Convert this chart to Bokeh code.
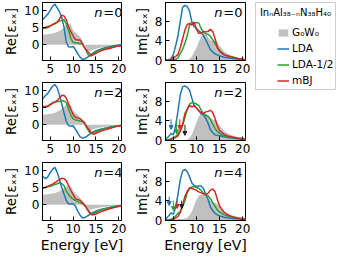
from bokeh.plotting import figure
from bokeh.layouts import row, column
from bokeh.models import Range1d, Label, Legend, LegendItem, Arrow, NormalHead, FixedTicker
from bokeh.embed import file_html
from bokeh.resources import INLINE

# ---------------- data ----------------
E = [3.3, 4, 4.5, 5, 5.5, 6, 6.5, 7, 7.5, 8, 8.5, 9, 9.5, 10, 10.5,
     11, 11.5, 12, 12.5, 13, 13.5, 14, 14.5, 15, 16, 17, 18, 19, 20, 20.6]

re0_g0w0 = [3.0, 3.0, 3.1, 3.2, 3.3, 3.5, 3.7, 4.0, 4.4, 5.0, 5.8, 6.2, 5.8, 4.2, 3.5,
            3.0, 2.4, 1.2, 0.0, -1.4, -1.9, -1.7, -1.4, -1.2, -0.9, -0.7, -0.5, -0.4, -0.3, -0.3]
re0_lda = [7.3, 8.2, 9.0, 10.0, 11.2, 11.8, 10.8, 9.6, 8.0, 5.2, 0.8, -0.6, -0.7, -0.5, -1.4,
           -2.6, -3.6, -4.2, -4.2, -3.8, -3.3, -2.8, -2.3, -1.9, -1.3, -0.9, -0.6, -0.3, -0.1, 0.0]
re0_lda12 = [4.7, 4.9, 5.0, 5.4, 5.9, 6.3, 6.6, 6.9, 7.1, 7.3, 6.0, 4.2, 1.8, 0.7, 0.5,
             0.5, 0.3, 0.3, -0.8, -2.2, -3.4, -3.1, -2.6, -2.1, -1.6, -1.2, -0.9, -0.6, -0.3, -0.2]
re0_mbj = [4.9, 5.1, 5.3, 5.5, 5.8, 6.1, 6.5, 7.5, 8.6, 8.4, 7.3, 5.2, 3.8, 2.6, 1.5,
           1.4, 1.4, 0.4, -0.9, -1.6, -2.4, -3.2, -2.9, -2.5, -1.8, -1.4, -1.1, -0.7, -0.4, -0.3]

re2_g0w0 = [3.0, 3.0, 3.1, 3.2, 3.3, 3.5, 3.8, 4.1, 4.6, 5.2, 5.8, 6.1, 5.6, 4.0, 3.4,
            2.9, 2.2, 1.1, 0.0, -1.3, -1.8, -1.6, -1.3, -1.1, -0.8, -0.6, -0.5, -0.4, -0.3, -0.3]
re2_lda = [7.5, 8.6, 9.2, 10.2, 11.2, 11.7, 10.8, 8.7, 6.1, 3.6, 1.0, -0.3, -0.4, -0.3, -1.3,
           -2.4, -3.5, -3.9, -3.8, -3.4, -2.9, -2.4, -2.0, -1.7, -1.3, -1.0, -0.7, -0.5, -0.3, -0.2]
re2_lda12 = [5.3, 5.3, 5.5, 6.0, 6.4, 6.6, 6.7, 6.8, 6.9, 7.0, 6.4, 4.6, 2.8, 1.7, 1.4,
             1.3, 1.1, 1.0, 0.4, -0.9, -2.0, -2.6, -2.3, -2.0, -1.5, -1.1, -0.8, -0.5, -0.3, -0.2]
re2_mbj = [5.0, 5.2, 5.3, 5.8, 6.2, 6.6, 7.0, 7.7, 8.5, 8.6, 7.8, 6.0, 4.5, 3.0, 2.2,
           2.0, 1.8, 1.2, 0.6, -0.6, -1.4, -2.3, -2.8, -2.5, -1.9, -1.5, -1.1, -0.7, -0.4, -0.3]

re4_g0w0 = [3.0, 3.0, 3.1, 3.2, 3.3, 3.4, 3.6, 3.9, 4.3, 4.8, 5.3, 5.6, 5.3, 4.0, 3.3,
            2.7, 2.0, 1.1, 0.2, -0.9, -1.5, -1.4, -1.2, -1.0, -0.8, -0.6, -0.5, -0.4, -0.3, -0.3]
re4_lda = [8.3, 7.6, 8.2, 9.4, 10.3, 10.9, 9.5, 7.4, 5.1, 3.1, 1.3, 0.2, 0.3, 0.3, -0.4,
           -1.8, -3.0, -3.8, -3.8, -3.4, -3.0, -2.5, -2.2, -1.9, -1.4, -1.1, -0.8, -0.5, -0.3, -0.2]
re4_lda12 = [4.8, 5.0, 5.2, 5.4, 5.6, 5.9, 6.1, 6.4, 6.2, 5.6, 4.0, 3.0, 2.2, 1.6, 1.2,
             0.9, 0.6, 0.3, -0.2, -1.1, -1.9, -2.7, -2.6, -2.2, -1.6, -1.2, -0.9, -0.6, -0.4, -0.3]
re4_mbj = [4.8, 5.1, 5.4, 5.7, 6.0, 6.4, 6.9, 7.3, 7.7, 7.6, 7.0, 5.6, 4.2, 3.0, 1.7,
           1.5, 1.3, 0.7, 0.0, -1.1, -2.2, -2.9, -2.9, -2.7, -2.1, -1.6, -1.2, -0.8, -0.5, -0.4]

im0_g0w0 = [0, 0, 0, 0, 0, 0, 0, 0, 0, 0.05, 0.2, 0.8, 1.7, 2.6, 3.8,
            4.8, 5.4, 5.7, 4.6, 4.1, 4.0, 4.0, 3.8, 2.9, 1.8, 1.2, 0.8, 0.4, 0.2, 0.15]
im0_lda = [0.0, 0.1, 0.3, 1.2, 3.0, 5.0, 8.0, 10.8, 11.2, 11.0, 10.0, 7.8, 6.8, 6.5, 6.0,
           5.6, 5.1, 4.2, 3.2, 2.2, 1.7, 1.3, 1.1, 0.9, 0.6, 0.45, 0.35, 0.2, 0.1, 0.1]
im0_lda12 = [0, 0, 0.05, 0.1, 0.2, 0.5, 1.4, 2.2, 3.5, 5.0, 7.2, 7.8, 7.5, 7.7, 7.6,
             6.5, 5.7, 5.5, 5.3, 4.9, 4.2, 3.4, 2.7, 2.0, 1.1, 0.8, 0.6, 0.35, 0.2, 0.15]
im0_mbj = [0, 0.05, 0.2, 0.5, 0.8, 1.2, 2.6, 4.4, 6.2, 7.3, 7.5, 7.2, 7.8, 6.3, 5.5,
           5.5, 5.9, 5.8, 5.9, 6.3, 5.9, 4.5, 2.6, 1.8, 1.1, 0.8, 0.55, 0.35, 0.2, 0.15]

im2_g0w0 = [0, 0, 0, 0, 0, 0, 0, 0, 0, 0.1, 0.5, 1.2, 2.4, 3.7, 4.8,
            5.5, 5.8, 5.4, 4.8, 4.5, 4.3, 4.1, 3.6, 3.0, 1.9, 1.3, 0.9, 0.6, 0.5, 0.4]
im2_lda = [0.2, 0.8, 1.4, 1.1, 3.0, 6.0, 9.3, 10.9, 11.1, 10.8, 10.2, 8.6, 7.1, 6.6, 6.1,
           5.4, 5.2, 4.5, 3.5, 2.2, 1.6, 1.1, 1.0, 0.9, 0.7, 0.5, 0.4, 0.3, 0.2, 0.2]
im2_lda12 = [0, 0.1, 0.3, 0.5, 0.8, 1.3, 2.0, 3.0, 4.6, 6.3, 7.4, 7.7, 7.6, 7.4, 7.1,
             6.2, 5.4, 5.1, 4.9, 4.3, 3.3, 2.4, 1.8, 1.4, 0.9, 0.7, 0.5, 0.4, 0.3, 0.25]
im2_mbj = [0, 0.05, 0.2, 0.4, 0.6, 0.9, 1.8, 3.3, 5.5, 6.3, 7.1, 6.8, 7.1, 6.6, 6.0,
           5.7, 5.5, 5.8, 5.9, 6.1, 5.7, 4.5, 3.0, 2.0, 1.2, 0.8, 0.6, 0.4, 0.3, 0.25]

im4_g0w0 = [0, 0, 0, 0.1, 0.2, 0.3, 0.3, 0.3, 0.4, 0.5, 1.0, 1.8, 3.0, 4.2, 5.0,
            5.2, 5.3, 5.0, 4.5, 4.0, 3.8, 3.6, 3.3, 2.8, 1.8, 1.3, 0.9, 0.7, 0.5, 0.5]
im4_lda = [0.2, 0.9, 1.5, 1.2, 2.7, 5.3, 8.3, 10.1, 10.4, 9.9, 8.9, 7.6, 7.1, 6.9, 7.0,
           7.0, 6.5, 5.3, 4.3, 2.7, 2.0, 1.4, 1.1, 0.9, 0.6, 0.45, 0.35, 0.25, 0.2, 0.2]
im4_lda12 = [0, 0.1, 0.2, 0.5, 0.9, 1.4, 1.8, 2.8, 4.0, 5.6, 6.5, 6.8, 6.9, 6.7, 6.5,
             6.1, 5.5, 5.2, 5.0, 4.4, 3.6, 2.9, 2.1, 1.7, 1.1, 0.8, 0.6, 0.4, 0.25, 0.2]
im4_mbj = [0, 0.05, 0.1, 0.2, 0.5, 0.8, 1.6, 3.0, 4.9, 5.9, 6.6, 6.5, 6.3, 6.1, 5.8,
           5.6, 5.4, 5.3, 5.5, 6.1, 6.4, 5.9, 4.3, 2.9, 1.6, 1.0, 0.6, 0.4, 0.25, 0.2]

# gap arrows (energy, arrow top, arrow tip)
gap2_x = [4.5, 5.7, 6.4, 7.5]
gap2_top = [4.3, 4.3, 4.3, 3.2]
gap2_bot = [2.2, 1.3, 2.2, 1.0]
gap4_x = [4.1, 5.0, 5.8, 6.8]
gap4_top = [4.8, 4.0, 4.0, 4.0]
gap4_bot = [3.0, 2.0, 2.4, 2.4]

n_values = [0, 2, 4]
x_ticks = [5, 10, 15, 20]
re_ticks = [0, 5, 10]
im_ticks = [0, 4, 8]
series_names = ["G₀W₀", "LDA", "LDA-1/2", "mBJ"]
legend_title = "InₙAl₃₈₋ₙN₃₈H₄₀"

# ---------------- style ----------------
FONT = "DejaVu Sans"
BLUE, GREEN, RED, GRAY = "#1f77b4", "#2ca02c", "#d62728", "#c0c0c0"
gap_colors = [BLUE, GREEN, RED, "#222222"]
LW = 1.5


def panel(kind, n, g, lda, lda12, mbj, last, gaps=None):
    is_re = kind == "re"
    W = 83 if is_re else 80
    bl = 38 if is_re else 37
    br = 7
    bt = 2
    bb = 36 if last else 20
    H = 58
    yr = Range1d(-4.6, 12.3) if is_re else Range1d(-0.05, 11.8)
    p = figure(width=bl + W + br, height=bt + H + bb,
               min_border_left=bl, min_border_right=br,
               min_border_top=bt, min_border_bottom=bb,
               x_range=Range1d(3.3, 20.6), y_range=yr,
               output_backend="svg", toolbar_location=None)
    p.grid.visible = False
    p.outline_line_color = "black"
    p.outline_line_alpha = 1
    p.outline_line_width = 1
    p.background_fill_color = "white"
    p.border_fill_color = "white"

    p.varea(x=E, y1=0, y2=g, fill_color=GRAY, fill_alpha=1)
    p.line(E, lda, line_color=BLUE, line_width=LW)
    p.line(E, lda12, line_color=GREEN, line_width=LW)
    p.line(E, mbj, line_color=RED, line_width=LW)

    if gaps is not None:
        gx, gt, gb = gaps
        for i in range(len(gx)):
            c = gap_colors[i]
            p.add_layout(Arrow(end=NormalHead(size=4, line_color=c, fill_color=c, line_width=1),
                               x_start=gx[i], y_start=gt[i], x_end=gx[i], y_end=gb[i],
                               line_color=c, line_width=1))

    p.xaxis.ticker = FixedTicker(ticks=x_ticks)
    p.yaxis.ticker = FixedTicker(ticks=re_ticks if is_re else im_ticks)
    for ax in (p.xaxis[0], p.yaxis[0]):
        ax.minor_tick_line_color = None
        ax.major_tick_in = 4
        ax.major_tick_out = 0
        ax.major_tick_line_color = "black"
        ax.axis_line_color = "black"
        ax.major_label_text_font = FONT
        ax.major_label_text_font_size = "12px"
        ax.major_label_text_color = "black"
        ax.major_label_standoff = 3
        ax.axis_label_text_font = FONT
        ax.axis_label_text_font_size = "13.5px"
        ax.axis_label_text_font_style = "normal"
        ax.axis_label_text_color = "black"
        ax.axis_label_standoff = 2
    p.yaxis.axis_label = "Re[εₓₓ]" if is_re else "Im[εₓₓ]"
    p.yaxis.major_label_orientation = "horizontal"
    if last:
        p.xaxis.axis_label = "Energy [eV]"
        p.xaxis.axis_label_text_font_size = "14px"
        p.xaxis.axis_label_standoff = 1

    # n = ... tag in the upper right corner
    p.add_layout(Label(x=W - 3, y=H - 2, x_units="screen", y_units="screen",
                       text="=" + str(n), text_font=FONT, text_font_size="13px",
                       text_align="right", text_baseline="top", text_color="black"))
    p.add_layout(Label(x=W - 23, y=H - 2, x_units="screen", y_units="screen",
                       text="n", text_font=FONT, text_font_size="13px", text_font_style="italic",
                       text_align="right", text_baseline="top", text_color="black"))
    return p


p1 = panel("re", n_values[0], re0_g0w0, re0_lda, re0_lda12, re0_mbj, False)
p2 = panel("im", n_values[0], im0_g0w0, im0_lda, im0_lda12, im0_mbj, False)
p3 = panel("re", n_values[1], re2_g0w0, re2_lda, re2_lda12, re2_mbj, False)
p4 = panel("im", n_values[1], im2_g0w0, im2_lda, im2_lda12, im2_mbj, False,
           gaps=(gap2_x, gap2_top, gap2_bot))
p5 = panel("re", n_values[2], re4_g0w0, re4_lda, re4_lda12, re4_mbj, True)
p6 = panel("im", n_values[2], im4_g0w0, im4_lda, im4_lda12, im4_mbj, True,
           gaps=(gap4_x, gap4_top, gap4_bot))

# ---------------- legend panel ----------------
# The legend's key renderers reuse the n=0 spectra; the legend panel's ranges lie
# outside the energy axis so only the legend keys are visible.
LWID, LHGT = 80, 87
pl = figure(width=3 + LWID + 1, height=2 + LHGT + 1,
            min_border_left=3, min_border_right=1, min_border_top=2, min_border_bottom=1,
            x_range=Range1d(0, 1), y_range=Range1d(0, 1),
            output_backend="svg", toolbar_location=None)
pl.axis.visible = False
pl.grid.visible = False
pl.outline_line_color = "#cccccc"
pl.outline_line_width = 1
pl.background_fill_color = "white"
pl.border_fill_color = "white"

r_g = pl.varea(x=E, y1=0, y2=im0_g0w0, fill_color=GRAY, fill_alpha=1)
r_l = pl.line(E, im0_lda, line_color=BLUE, line_width=LW)
r_h = pl.line(E, im0_lda12, line_color=GREEN, line_width=LW)
r_m = pl.line(E, im0_mbj, line_color=RED, line_width=LW)

leg = Legend(items=[LegendItem(label=series_names[0], renderers=[r_g]),
                    LegendItem(label=series_names[1], renderers=[r_l]),
                    LegendItem(label=series_names[2], renderers=[r_h]),
                    LegendItem(label=series_names[3], renderers=[r_m])],
             location=(22, 3), padding=0, margin=0, spacing=4,
             glyph_width=12, glyph_height=9, label_height=12, label_standoff=3,
             label_text_font=FONT, label_text_font_size="10.5px", label_text_color="black",
             border_line_alpha=0, background_fill_alpha=0)
pl.add_layout(leg)
pl.add_layout(Label(x=LWID / 2, y=LHGT - 10, x_units="screen", y_units="screen",
                    text=legend_title, text_font=FONT, text_font_size="10px",
                    text_align="center", text_baseline="middle", text_color="black"))

layout = row(column(p1, p3, p5), column(p2, p4, p6), pl)
open("out.html", "w").write(file_html(layout, INLINE))
